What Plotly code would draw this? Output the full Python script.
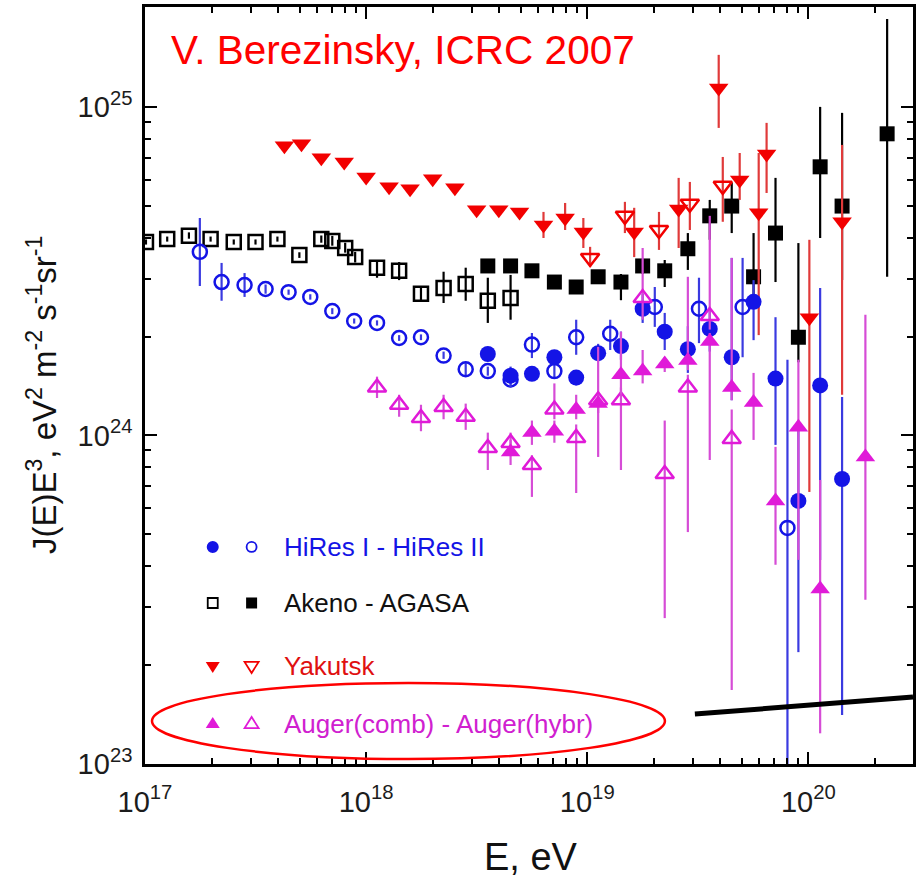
import plotly.graph_objects as go

# ---------------------------------------------------------------------------
# Cosmic-ray spectra: E [eV] and J(E)E^3 [eV^2 m^-2 s^-1 sr^-1]
# *_hi / *_lo are the upper / lower ends of each error bar
# ---------------------------------------------------------------------------
hires1_E = [3.55e18, 4.5e18, 5.62e18, 7.1e18, 8.91e18, 1.12e19, 1.42e19, 1.78e19, 2.24e19,
            2.85e19, 3.58e19, 4.5e19, 5.65e19, 7.1e19, 9.01e19, 1.13e20, 1.42e20]
hires1_J = [1.77e24, 1.52e24, 1.54e24, 1.73e24, 1.50e24, 1.78e24, 1.87e24, 2.43e24, 2.07e24,
            1.83e24, 2.11e24, 1.73e24, 2.55e24, 1.49e24, 6.32e23, 1.42e24, 7.37e23]
hires1_hi = [1.85e24, 1.62e24, 1.62e24, 1.82e24, 1.58e24, 1.90e24, 2.07e24, 2.70e24, 2.36e24,
             2.15e24, 2.45e24, 3.47e24, 2.97e24, 2.29e24, 1.04e24, 2.81e24, 1.31e24]
hires1_lo = [1.70e24, 1.40e24, 1.47e24, 1.65e24, 1.42e24, 1.68e24, 1.70e24, 2.20e24, 1.82e24,
             1.55e24, 1.80e24, 1.28e24, 1.95e24, 9.36e23, 2.19e23, 4.18e23, 1.41e23]

hires2_E = [1.77e17, 2.22e17, 2.82e17, 3.51e17, 4.46e17, 5.59e17, 7.03e17, 8.83e17, 1.12e18,
            1.41e18, 1.77e18, 2.24e18, 2.82e18, 3.55e18, 4.5e18, 5.62e18, 7.1e18, 8.91e18,
            1.27e19, 2.02e19, 3.2e19, 5.04e19, 8.04e19]
hires2_J = [3.62e24, 2.93e24, 2.87e24, 2.79e24, 2.73e24, 2.64e24, 2.39e24, 2.23e24, 2.20e24,
            1.98e24, 1.99e24, 1.75e24, 1.59e24, 1.57e24, 1.48e24, 1.89e24, 1.57e24, 1.99e24,
            2.04e24, 2.46e24, 2.43e24, 2.46e24, 5.23e23]
hires2_hi = [4.59e24, 3.35e24, 3.12e24, 2.88e24, 2.78e24, 2.69e24, 2.44e24, 2.27e24, 2.24e24,
             2.02e24, 2.03e24, 1.80e24, 1.66e24, 1.62e24, 1.53e24, 2.05e24, 1.64e24, 2.25e24,
             2.25e24, 2.83e24, 3.02e24, 3.47e24, 1.70e24]
hires2_lo = [2.85e24, 2.57e24, 2.64e24, 2.70e24, 2.68e24, 2.59e24, 2.34e24, 2.19e24, 2.16e24,
             1.94e24, 1.95e24, 1.71e24, 1.52e24, 1.52e24, 1.43e24, 1.72e24, 1.50e24, 1.76e24,
             1.82e24, 2.14e24, 1.91e24, 1.73e24, 5.0e22]

akeno_E = [1.01e17, 1.26e17, 1.58e17, 1.98e17, 2.52e17, 3.16e17, 3.97e17, 4.99e17, 6.27e17,
           7.03e17, 8.04e17, 8.92e17, 1.12e18, 1.41e18, 1.77e18, 2.24e18, 2.82e18, 3.55e18, 4.5e18]
akeno_J = [3.88e24, 3.96e24, 4.05e24, 3.96e24, 3.88e24, 3.88e24, 3.96e24, 3.54e24, 3.96e24,
           3.91e24, 3.72e24, 3.49e24, 3.24e24, 3.17e24, 2.70e24, 2.81e24, 2.89e24, 2.57e24, 2.62e24]
akeno_hi = [3.95e24, 4.03e24, 4.15e24, 4.03e24, 3.95e24, 3.95e24, 4.03e24, 3.61e24, 4.06e24,
            4.05e24, 3.86e24, 3.62e24, 3.42e24, 3.37e24, 2.81e24, 3.15e24, 3.24e24, 3.02e24, 3.08e24]
akeno_lo = [3.81e24, 3.89e24, 3.97e24, 3.89e24, 3.81e24, 3.81e24, 3.89e24, 3.47e24, 3.86e24,
            3.78e24, 3.60e24, 3.36e24, 3.02e24, 2.97e24, 2.55e24, 2.53e24, 2.57e24, 2.20e24, 2.25e24]

agasa_E = [3.55e18, 4.5e18, 5.62e18, 7.1e18, 8.91e18, 1.12e19, 1.42e19, 1.78e19, 2.24e19,
           2.85e19, 3.58e19, 4.5e19, 5.65e19, 7.1e19, 9.01e19, 1.13e20, 1.42e20, 2.27e20]
agasa_J = [3.28e24, 3.28e24, 3.17e24, 2.93e24, 2.83e24, 3.04e24, 2.93e24, 3.28e24, 3.17e24,
           3.70e24, 4.66e24, 4.99e24, 3.04e24, 4.13e24, 1.99e24, 6.57e24, 4.99e24, 8.28e24]
agasa_hi = [3.33e24, 3.33e24, 3.22e24, 2.98e24, 2.88e24, 3.10e24, 3.10e24, 3.45e24, 3.42e24,
            4.13e24, 5.21e24, 5.87e24, 4.13e24, 6.08e24, 3.85e24, 1.0e25, 9.59e24, 1.85e25]
agasa_lo = [3.23e24, 3.23e24, 3.12e24, 2.88e24, 2.78e24, 2.98e24, 2.58e24, 3.10e24, 2.83e24,
            3.19e24, 3.94e24, 4.13e24, 2.58e24, 2.93e24, 1.67e24, 3.99e24, 2.97e24, 3.04e24]

yak_E = [4.27e17, 5.10e17, 6.27e17, 7.96e17, 1.0e18, 1.27e18, 1.58e18, 2.0e18, 2.52e18, 3.16e18,
         3.98e18, 4.94e18, 6.34e18, 7.94e18, 9.6e18, 1.63e19, 2.59e19, 3.93e19, 4.89e19, 5.96e19,
         6.47e19, 1.01e20, 1.42e20]
yak_J = [7.61e24, 7.72e24, 7.0e24, 6.80e24, 6.12e24, 5.71e24, 5.63e24, 6.04e24, 5.67e24, 4.86e24,
         4.86e24, 4.79e24, 4.37e24, 4.59e24, 4.16e24, 4.16e24, 4.89e24, 1.142e25, 5.99e24, 4.76e24,
         7.19e24, 2.28e24, 4.47e24]
yak_hi = [7.61e24, 7.72e24, 7.0e24, 6.80e24, 6.12e24, 5.71e24, 5.63e24, 6.04e24, 5.67e24, 4.95e24,
          4.95e24, 4.90e24, 4.79e24, 5.10e24, 4.59e24, 4.93e24, 6.08e24, 1.44e25, 7.24e24, 7.24e24,
          8.94e24, 3.94e24, 7.66e24]
yak_lo = [7.61e24, 7.72e24, 7.0e24, 6.80e24, 6.12e24, 5.71e24, 5.63e24, 6.04e24, 5.67e24, 4.78e24,
          4.78e24, 4.68e24, 3.99e24, 4.22e24, 3.72e24, 3.49e24, 3.72e24, 8.63e24, 5.21e24, 2.02e24,
          5.47e24, 6.73e23, 1.33e24]

yak2_E = [1.03e19, 1.48e19, 2.11e19, 2.91e19, 4.1e19]
yak2_J = [3.47e24, 4.66e24, 4.22e24, 5.07e24, 5.75e24]
yak2_hi = [3.75e24, 5.14e24, 4.79e24, 5.91e24, 7.04e24]
yak2_lo = [3.26e24, 4.13e24, 3.67e24, 4.22e24, 4.47e24]

augc_E = [4.5e18, 5.62e18, 7.1e18, 8.91e18, 1.12e19, 1.42e19, 1.78e19, 2.24e19, 2.85e19,
          3.58e19, 4.5e19, 5.65e19, 7.1e19, 9.01e19, 1.13e20, 1.81e20]
augc_J = [8.91e23, 1.02e24, 1.03e24, 1.20e24, 1.25e24, 1.53e24, 1.57e24, 1.65e24, 1.69e24,
          1.93e24, 1.40e24, 1.26e24, 6.32e23, 1.06e24, 3.41e23, 8.60e23]
augc_hi = [9.69e23, 1.11e24, 1.11e24, 1.33e24, 1.33e24, 2.07e24, 1.82e24, 1.73e24, 3.04e24,
           2.05e24, 3.47e24, 1.55e24, 9.23e23, 1.70e24, 7.32e23, 2.33e24]
augc_lo = [8.13e23, 9.36e23, 9.5e23, 1.12e24, 1.17e24, 1.33e24, 1.44e24, 1.56e24, 1.58e24,
           8.42e23, 1.28e24, 9.69e23, 4.04e23, 4.18e23, 1.24e23, 3.16e23]

augh_E = [1.12e18, 1.41e18, 1.77e18, 2.24e18, 2.82e18, 3.55e18, 4.5e18, 5.62e18, 7.1e18,
          8.91e18, 1.12e19, 1.42e19, 1.78e19, 2.24e19, 2.85e19, 3.58e19, 4.5e19]
augh_J = [1.40e24, 1.24e24, 1.13e24, 1.22e24, 1.14e24, 9.16e23, 9.49e23, 8.13e23, 1.20e24,
          9.83e23, 1.28e24, 1.28e24, 2.62e24, 7.63e23, 1.40e24, 2.31e24, 9.76e23]
augh_hi = [1.51e24, 1.33e24, 1.24e24, 1.33e24, 1.25e24, 1.02e24, 1.02e24, 8.7e23, 1.44e24,
           1.08e24, 1.86e24, 1.40e24, 3.72e24, 1.11e24, 1.53e24, 4.66e24, 1.20e24]
augh_lo = [1.30e24, 1.14e24, 1.03e24, 1.12e24, 1.04e24, 7.85e23, 8.8e23, 6.50e23, 1.12e24,
           6.68e23, 8.60e23, 7.85e23, 2.25e24, 2.78e23, 5.08e23, 2.1e24, 1.68e23]

x_tick_vals = [1e17, 1e18, 1e19, 1e20]
x_tick_text = ["10<sup>17</sup>", "10<sup>18</sup>", "10<sup>19</sup>", "10<sup>20</sup>"]
y_tick_vals = [1e23, 1e24, 1e25]
y_tick_text = ["10<sup>23</sup>", "10<sup>24</sup>", "10<sup>25</sup>"]

legend_rows = [
    ("HiRes I - HiRes II", "circle", "circle-open"),
    ("Akeno - AGASA", "square-open", "square"),
    ("Yakutsk", "triangle-down", "triangle-down-open"),
    ("Auger(comb) - Auger(hybr)", "triangle-up", "triangle-up-open"),
]

# ---------------------------------------------------------------------------
BLUE, BLUE_ERR = "#1414e6", "#3a3ae0"
BLACK = "#000000"
RED, RED_ERR = "#f20000", "#e03a3a"
MAG, MAG_ERR = "#e01ad8", "#d64cd6"
row_colors = [BLUE, "#111111", "#e01010", "#d020d0"]
key_colors = [BLUE, BLACK, RED, MAG]
FONT = "Liberation Sans, Arial, Helvetica, sans-serif"


def err_bars(vals, hi, lo, color):
    return dict(type="data", symmetric=False,
                array=[h - v for h, v in zip(hi, vals)],
                arrayminus=[v - l for v, l in zip(vals, lo)],
                color=color, thickness=2.2, width=0)


def series(E, J, hi, lo, symbol, color, ecolor, size):
    open_sym = symbol.endswith("-open")
    return go.Scatter(
        x=E, y=J, mode="markers", showlegend=False,
        marker=dict(symbol=symbol, size=size, color=color,
                    line=dict(width=2.5 if open_sym else 0, color=color)),
        error_y=err_bars(J, hi, lo, ecolor),
    )


fig = go.Figure()
fig.add_trace(series(akeno_E, akeno_J, akeno_hi, akeno_lo, "square-open", BLACK, BLACK, 14))
fig.add_trace(series(agasa_E, agasa_J, agasa_hi, agasa_lo, "square", BLACK, BLACK, 15))
fig.add_trace(series(yak_E, yak_J, yak_hi, yak_lo, "triangle-down", RED, RED_ERR, 17))
fig.add_trace(series(yak2_E, yak2_J, yak2_hi, yak2_lo, "triangle-down-open", RED, RED_ERR, 16))
fig.add_trace(series(hires2_E, hires2_J, hires2_hi, hires2_lo, "circle-open", BLUE, BLUE_ERR, 14))
fig.add_trace(series(hires1_E, hires1_J, hires1_hi, hires1_lo, "circle", BLUE, BLUE_ERR, 16))
fig.add_trace(series(augh_E, augh_J, augh_hi, augh_lo, "triangle-up-open", MAG, MAG_ERR, 16))
fig.add_trace(series(augc_E, augc_J, augc_hi, augc_lo, "triangle-up", MAG, MAG_ERR, 17))

# minor ticks at 2..9 of each decade
x_minor = [m * 10.0 ** d for d in range(17, 21) for m in range(2, 10) if m * 10.0 ** d < 2.9e20]
y_minor = [m * 10.0 ** d for d in range(23, 26) for m in range(2, 10) if m * 10.0 ** d < 2.0e25]

axis_common = dict(
    type="log", showgrid=False, zeroline=False,
    showline=True, linecolor="black", linewidth=2.5, mirror="allticks",
    ticks="inside", ticklen=12, tickwidth=2.2, tickcolor="black",
    tickmode="array",
    tickfont=dict(family=FONT, size=29, color="#1c1c1c"),
    minor=dict(ticks="inside", ticklen=6, tickwidth=1.8, tickcolor="black",
               tickmode="array", showgrid=False),
)

fig.update_xaxes(**axis_common, range=[17.0, 20.473], tickvals=x_tick_vals,
                 ticktext=x_tick_text, ticklabelstandoff=10)
fig.update_xaxes(minor_tickvals=x_minor)
fig.update_yaxes(**axis_common, range=[23.0, 25.304], tickvals=y_tick_vals,
                 ticktext=y_tick_text, ticklabelstandoff=4)
fig.update_yaxes(minor_tickvals=y_minor)

annotations = [
    dict(text="V. Berezinsky, ICRC 2007", x=0.031, y=0.943, xref="paper", yref="paper",
         xanchor="left", yanchor="middle", showarrow=False,
         font=dict(family=FONT, size=40.5, color="#ff0000")),
    dict(text="E, eV", x=0.503, y=-0.123, xref="paper", yref="paper",
         xanchor="center", yanchor="middle", showarrow=False,
         font=dict(family=FONT, size=38, color="#111111")),
    dict(text="J(E)E<sup>3</sup>, eV<sup>2</sup> m<sup>-2</sup> s<sup>-1</sup>sr<sup>-1</sup>",
         x=-0.134, y=0.4875, xref="paper", yref="paper", textangle=-90,
         xanchor="center", yanchor="middle", showarrow=False,
         font=dict(family=FONT, size=33, color="#111111")),
]

# legend block drawn inside the frame
row_y = [0.2867, 0.2127, 0.1295, 0.0528]
key_x = [0.0882, 0.1388]
text_x = 0.179
shapes = []


def key_shape(sym, color, xp, yp):
    filled = not sym.endswith("-open")
    base = dict(xref="paper", yref="paper", xsizemode="pixel", ysizemode="pixel",
                xanchor=xp, yanchor=yp,
                line=dict(color=color, width=0 if filled else 1.8),
                fillcolor=color if filled else "rgba(0,0,0,0)")
    if sym.startswith("circle"):
        r = 6 if filled else 5
        return dict(type="circle", x0=-r, x1=r, y0=-r, y1=r, **base)
    if sym.startswith("square"):
        h = 5.5 if filled else 5
        return dict(type="rect", x0=-h, x1=h, y0=-h, y1=h, **base)
    if sym.startswith("triangle-down"):
        return dict(type="path", path="M-7,4 L7,4 L0,-7 Z", **base)
    return dict(type="path", path="M-7,-4 L7,-4 L0,7 Z", **base)


for (label, s1, s2), yp, col, kcol in zip(legend_rows, row_y, row_colors, key_colors):
    shapes.append(key_shape(s1, kcol, key_x[0], yp))
    shapes.append(key_shape(s2, kcol, key_x[1], yp))
    annotations.append(dict(text=label, x=text_x, y=yp, xref="paper", yref="paper",
                            xanchor="left", yanchor="middle", showarrow=False,
                            font=dict(family=FONT, size=26, color=col)))

# highlight ring around the Auger entry and the black guide stroke
shapes.append(dict(type="circle", xref="paper", yref="paper",
                   x0=0.0091, x1=0.677, y0=0.0066, y1=0.107,
                   line=dict(color="#ff0000", width=2.5)))
shapes.append(dict(type="line", xref="paper", yref="paper",
                   x0=0.716, y0=0.066, x1=1.0, y1=0.0885,
                   line=dict(color="black", width=5)))

fig.update_layout(
    width=916, height=880,
    margin=dict(l=145, r=0, t=7, b=116),
    paper_bgcolor="white", plot_bgcolor="white",
    showlegend=False,
    annotations=annotations, shapes=shapes,
)

fig.write_html("out.html")
